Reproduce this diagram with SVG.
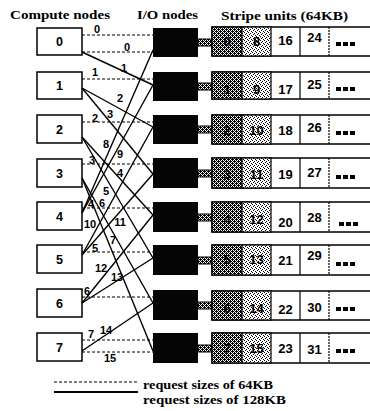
<svg xmlns="http://www.w3.org/2000/svg" width="370" height="411" viewBox="0 0 370 411">
  <defs>
    <!-- dense cross-hatch for the first stripe unit and the I/O links -->
    <pattern id="hatchDark" width="4" height="4" patternUnits="userSpaceOnUse">
      <rect width="4" height="4" fill="#000"/>
      <rect x="1" y="0" width="1" height="1" fill="#fff"/>
      <rect x="3" y="0" width="1" height="1" fill="#fff"/>
      <rect x="0" y="1" width="1" height="1" fill="#fff"/>
      <rect x="1" y="2" width="1" height="1" fill="#fff"/>
      <rect x="3" y="2" width="1" height="1" fill="#fff"/>
      <rect x="2" y="3" width="1" height="1" fill="#fff"/>
    </pattern>
    <!-- light stipple for the second stripe unit -->
    <pattern id="stipple" width="4" height="4" patternUnits="userSpaceOnUse">
      <rect width="4" height="4" fill="#fff"/>
      <rect x="0" y="0" width="1" height="1" fill="#000"/>
      <rect x="2" y="1" width="1" height="1" fill="#000"/>
      <rect x="1" y="2" width="1" height="1" fill="#000"/>
      <rect x="3" y="3" width="1" height="1" fill="#000"/>
    </pattern>
    <style>
      .hdr { font-family: "Liberation Serif", "Times New Roman", serif; font-weight: bold; font-size: 13px; fill: #000; }
      .cbox { fill: #fff; stroke: #000; stroke-width: 1.5; }
      .cnum { font-family: "Liberation Sans", Arial, sans-serif; font-weight: bold; font-size: 12.5px; text-anchor: middle; fill: #000; }
      .io { fill: #050505; }
      .link { fill: url(#hatchDark); stroke: #000; stroke-width: 1; }
      .row { fill: #fff; stroke: #000; stroke-width: 1.5; }
      .u0 { fill: url(#hatchDark); stroke: #000; stroke-width: 1.2; }
      .u1 { fill: url(#stipple); stroke: #000; stroke-width: 1.2; }
      .div { stroke: #000; stroke-width: 1.2; }
      .divd { stroke: #000; stroke-width: 1.2; stroke-dasharray: 2 1; }
      .snum { font-family: "Liberation Sans", Arial, sans-serif; font-weight: bold; font-size: 13px; text-anchor: middle; fill: #000; }
      .dash { stroke: #000; stroke-width: 1; stroke-dasharray: 3 2; fill: none; }
      .solid { stroke: #000; stroke-width: 1.4; fill: none; }
      .lbl { font-family: "Liberation Sans", Arial, sans-serif; font-weight: bold; font-size: 11px; text-anchor: middle; fill: #000; }
      .dots { fill: #000; }
    </style>
  </defs>

  <rect width="370" height="411" fill="#fff"/>

  <!-- column headings -->
  <text class="hdr" x="10" y="19" textLength="100" lengthAdjust="spacingAndGlyphs">Compute nodes</text>
  <text class="hdr" x="137" y="19" textLength="61" lengthAdjust="spacingAndGlyphs">I/O nodes</text>
  <text class="hdr" x="221" y="20" textLength="127" lengthAdjust="spacingAndGlyphs">Stripe units (64KB)</text>

  <!-- compute nodes -->
  <g id="compute-0"><rect class="cbox" x="37" y="28" width="45" height="27"/><text class="cnum" x="59.5" y="46">0</text></g>
  <g id="compute-1"><rect class="cbox" x="37" y="72" width="45" height="27"/><text class="cnum" x="59.5" y="90">1</text></g>
  <g id="compute-2"><rect class="cbox" x="37" y="115" width="45" height="28"/><text class="cnum" x="59.5" y="134">2</text></g>
  <g id="compute-3"><rect class="cbox" x="37" y="159" width="45" height="28"/><text class="cnum" x="59.5" y="178">3</text></g>
  <g id="compute-4"><rect class="cbox" x="37" y="202" width="45" height="28"/><text class="cnum" x="59.5" y="221">4</text></g>
  <g id="compute-5"><rect class="cbox" x="37" y="245" width="45" height="28"/><text class="cnum" x="59.5" y="264">5</text></g>
  <g id="compute-6"><rect class="cbox" x="37" y="289" width="45" height="28"/><text class="cnum" x="59.5" y="308">6</text></g>
  <g id="compute-7"><rect class="cbox" x="37" y="333" width="45" height="28"/><text class="cnum" x="59.5" y="352">7</text></g>

  <!-- I/O nodes with their link to the stripe row -->
  <g id="io-0"><rect class="io" x="153" y="28" width="45" height="29"/><rect class="link" x="198" y="39" width="14" height="7"/></g>
  <g id="io-1"><rect class="io" x="153" y="72" width="45" height="29"/><rect class="link" x="198" y="83" width="14" height="7"/></g>
  <g id="io-2"><rect class="io" x="153" y="115" width="45" height="29"/><rect class="link" x="198" y="126" width="14" height="7"/></g>
  <g id="io-3"><rect class="io" x="153" y="158" width="45" height="30"/><rect class="link" x="198" y="170" width="14" height="7"/></g>
  <g id="io-4"><rect class="io" x="153" y="202" width="45" height="30"/><rect class="link" x="198" y="214" width="14" height="7"/></g>
  <g id="io-5"><rect class="io" x="153" y="245" width="45" height="30"/><rect class="link" x="198" y="257" width="14" height="7"/></g>
  <g id="io-6"><rect class="io" x="153" y="290" width="45" height="30"/><rect class="link" x="198" y="302" width="14" height="7"/></g>
  <g id="io-7"><rect class="io" x="153" y="333" width="45" height="30"/><rect class="link" x="198" y="345" width="14" height="7"/></g>

  <!-- stripe rows: units k, k+8, k+16, k+24, ... -->
  <g id="stripe-0">
    <rect class="row" x="212" y="27" width="160" height="29"/>
    <rect class="u0" x="212" y="27" width="30" height="29"/><rect class="u1" x="242" y="27" width="29" height="29"/>
    <line class="div" x1="300" y1="27" x2="300" y2="56"/><line class="divd" x1="329" y1="27" x2="329" y2="56"/>
    <text class="snum" x="227" y="46">0</text><text class="snum" x="256.5" y="46">8</text>
    <text class="snum" x="285.5" y="45">16</text><text class="snum" x="314.5" y="42">24</text>
    <rect class="dots" x="336" y="42" width="5" height="4"/><rect class="dots" x="343" y="42" width="5" height="4"/><rect class="dots" x="350" y="42" width="5" height="4"/>
  </g>
  <g id="stripe-1">
    <rect class="row" x="212" y="72" width="160" height="27"/>
    <rect class="u0" x="212" y="72" width="30" height="27"/><rect class="u1" x="242" y="72" width="29" height="27"/>
    <line class="div" x1="300" y1="72" x2="300" y2="99"/><line class="divd" x1="329" y1="72" x2="329" y2="99"/>
    <text class="snum" x="227" y="94">1</text><text class="snum" x="256.5" y="94">9</text>
    <text class="snum" x="285.5" y="94">17</text><text class="snum" x="314.5" y="89">25</text>
    <rect class="dots" x="336" y="87" width="5" height="4"/><rect class="dots" x="343" y="87" width="5" height="4"/><rect class="dots" x="350" y="87" width="5" height="4"/>
  </g>
  <g id="stripe-2">
    <rect class="row" x="212" y="115" width="160" height="29"/>
    <rect class="u0" x="212" y="115" width="30" height="29"/><rect class="u1" x="242" y="115" width="29" height="29"/>
    <line class="div" x1="300" y1="115" x2="300" y2="144"/><line class="divd" x1="329" y1="115" x2="329" y2="144"/>
    <text class="snum" x="227" y="135">2</text><text class="snum" x="256.5" y="135">10</text>
    <text class="snum" x="285.5" y="135">18</text><text class="snum" x="314.5" y="132">26</text>
    <rect class="dots" x="336" y="131" width="5" height="4"/><rect class="dots" x="343" y="131" width="5" height="4"/><rect class="dots" x="350" y="131" width="5" height="4"/>
  </g>
  <g id="stripe-3">
    <rect class="row" x="212" y="158" width="160" height="30"/>
    <rect class="u0" x="212" y="158" width="30" height="30"/><rect class="u1" x="242" y="158" width="29" height="30"/>
    <line class="div" x1="300" y1="158" x2="300" y2="188"/><line class="divd" x1="329" y1="158" x2="329" y2="188"/>
    <text class="snum" x="227" y="179">3</text><text class="snum" x="256.5" y="179">11</text>
    <text class="snum" x="285.5" y="179">19</text><text class="snum" x="314.5" y="177">27</text>
    <rect class="dots" x="336" y="175" width="5" height="4"/><rect class="dots" x="343" y="175" width="5" height="4"/><rect class="dots" x="350" y="175" width="5" height="4"/>
  </g>
  <g id="stripe-4">
    <rect class="row" x="212" y="202" width="160" height="30"/>
    <rect class="u0" x="212" y="202" width="30" height="30"/><rect class="u1" x="242" y="202" width="29" height="30"/>
    <line class="div" x1="300" y1="202" x2="300" y2="232"/><line class="divd" x1="329" y1="202" x2="329" y2="232"/>
    <text class="snum" x="227" y="224">4</text><text class="snum" x="256.5" y="224">12</text>
    <text class="snum" x="285.5" y="227">20</text><text class="snum" x="314.5" y="222">28</text>
    <rect class="dots" x="339" y="222" width="5" height="4"/><rect class="dots" x="346" y="222" width="5" height="4"/><rect class="dots" x="353" y="222" width="5" height="4"/>
  </g>
  <g id="stripe-5">
    <rect class="row" x="212" y="245" width="160" height="30"/>
    <rect class="u0" x="212" y="245" width="30" height="30"/><rect class="u1" x="242" y="245" width="29" height="30"/>
    <line class="div" x1="300" y1="245" x2="300" y2="275"/><line class="divd" x1="329" y1="245" x2="329" y2="275"/>
    <text class="snum" x="227" y="264">5</text><text class="snum" x="256.5" y="264">13</text>
    <text class="snum" x="285.5" y="265">21</text><text class="snum" x="314.5" y="260">29</text>
    <rect class="dots" x="336" y="262" width="5" height="4"/><rect class="dots" x="343" y="262" width="5" height="4"/><rect class="dots" x="350" y="262" width="5" height="4"/>
  </g>
  <g id="stripe-6">
    <rect class="row" x="212" y="291" width="160" height="29"/>
    <rect class="u0" x="212" y="291" width="30" height="29"/><rect class="u1" x="242" y="291" width="29" height="29"/>
    <line class="div" x1="300" y1="291" x2="300" y2="320"/><line class="divd" x1="329" y1="291" x2="329" y2="320"/>
    <text class="snum" x="227" y="313">6</text><text class="snum" x="256.5" y="313">14</text>
    <text class="snum" x="285.5" y="314">22</text><text class="snum" x="314.5" y="312">30</text>
    <rect class="dots" x="336" y="307" width="5" height="4"/><rect class="dots" x="343" y="307" width="5" height="4"/><rect class="dots" x="350" y="307" width="5" height="4"/>
  </g>
  <g id="stripe-7">
    <rect class="row" x="212" y="333" width="160" height="30"/>
    <rect class="u0" x="212" y="333" width="30" height="30"/><rect class="u1" x="242" y="333" width="29" height="30"/>
    <line class="div" x1="300" y1="333" x2="300" y2="363"/><line class="divd" x1="329" y1="333" x2="329" y2="363"/>
    <text class="snum" x="227" y="353">7</text><text class="snum" x="256.5" y="353">15</text>
    <text class="snum" x="285.5" y="353">23</text><text class="snum" x="314.5" y="354">31</text>
    <rect class="dots" x="336" y="349" width="5" height="4"/><rect class="dots" x="343" y="349" width="5" height="4"/><rect class="dots" x="350" y="349" width="5" height="4"/>
  </g>

  <!-- requests from compute nodes to I/O nodes -->
  <g id="connectors">
    <!-- 64KB requests -->
    <line class="dash" x1="82" y1="35" x2="153" y2="35"/>
    <line class="dash" x1="82" y1="79" x2="153" y2="79"/>
    <line class="dash" x1="82" y1="122" x2="153" y2="122"/>
    <line class="dash" x1="82" y1="164" x2="153" y2="164"/>
    <line class="dash" x1="82" y1="208" x2="153" y2="208"/>
    <line class="dash" x1="82" y1="252" x2="153" y2="252"/>
    <line class="dash" x1="82" y1="297" x2="153" y2="297"/>
    <line class="dash" x1="82" y1="340" x2="153" y2="340"/>
    <!-- 128KB requests -->
    <line class="dash" x1="82" y1="52" x2="153" y2="52"/>
    <line class="solid" x1="82" y1="52" x2="153" y2="85"/>
    <line class="solid" x1="82" y1="88" x2="153" y2="127"/>
    <line class="solid" x1="82" y1="88" x2="153" y2="174"/>
    <line class="solid" x1="82" y1="137" x2="153" y2="215"/>
    <line class="solid" x1="82" y1="137" x2="153" y2="258"/>
    <line class="solid" x1="82" y1="178" x2="153" y2="303"/>
    <line class="solid" x1="82" y1="178" x2="153" y2="351"/>
    <line class="solid" x1="82" y1="213" x2="153" y2="50"/>
    <line class="solid" x1="82" y1="213" x2="153" y2="85"/>
    <line class="solid" x1="82" y1="255" x2="153" y2="127"/>
    <line class="solid" x1="82" y1="255" x2="153" y2="174"/>
    <line class="solid" x1="82" y1="303" x2="153" y2="215"/>
    <line class="solid" x1="82" y1="303" x2="153" y2="258"/>
    <line class="solid" x1="82" y1="351" x2="153" y2="303"/>
    <line class="dash" x1="82" y1="352" x2="153" y2="352"/>

    <!-- request labels -->
    <text class="lbl" x="97" y="33">0</text>
    <text class="lbl" x="95" y="76">1</text>
    <text class="lbl" x="95" y="122">2</text>
    <text class="lbl" x="92" y="164">3</text>
    <text class="lbl" x="91" y="208">4</text>
    <text class="lbl" x="95" y="252">5</text>
    <text class="lbl" x="87" y="295">6</text>
    <text class="lbl" x="91" y="338">7</text>
    <text class="lbl" x="127" y="51">0</text>
    <text class="lbl" x="124" y="72">1</text>
    <text class="lbl" x="120" y="102">2</text>
    <text class="lbl" x="110" y="118">3</text>
    <text class="lbl" x="120" y="177">4</text>
    <text class="lbl" x="106" y="195">5</text>
    <text class="lbl" x="102" y="207">6</text>
    <text class="lbl" x="113" y="244">7</text>
    <text class="lbl" x="106" y="148">8</text>
    <text class="lbl" x="120" y="158">9</text>
    <text class="lbl" x="90" y="228">10</text>
    <text class="lbl" x="120" y="226">11</text>
    <text class="lbl" x="101" y="272">12</text>
    <text class="lbl" x="117" y="281">13</text>
    <text class="lbl" x="106" y="334">14</text>
    <text class="lbl" x="110" y="362">15</text>
  </g>

  <!-- legend -->
  <g id="legend">
    <line class="dash" x1="54" y1="382" x2="138" y2="382"/>
    <line x1="54" y1="392" x2="138" y2="392" stroke="#000" stroke-width="2"/>
    <text class="hdr" x="143" y="389" textLength="130" lengthAdjust="spacingAndGlyphs">request sizes of 64KB</text>
    <text class="hdr" x="143" y="404" textLength="143" lengthAdjust="spacingAndGlyphs">request sizes of 128KB</text>
  </g>
</svg>
